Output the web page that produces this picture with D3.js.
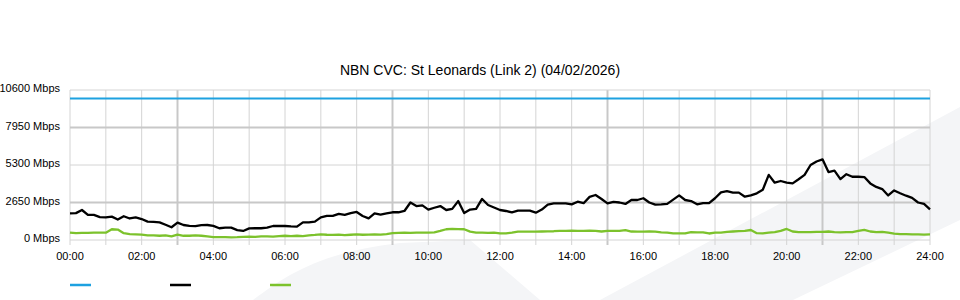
<!DOCTYPE html>
<html><head><meta charset="utf-8">
<script src="https://cdn.jsdelivr.net/npm/d3@7"></script>
<style>body{margin:0;background:#fff;}svg{display:block;font-family:"Liberation Sans",Arial,sans-serif;}</style>
</head><body><svg id="c" width="960" height="300"></svg>
<script>
const title = "NBN CVC: St Leonards (Link 2) (04/02/2026)";
const yTicks = [0, 2650, 5300, 7950, 10600];
const xTickHours = [0, 2, 4, 6, 8, 10, 12, 14, 16, 18, 20, 22, 24];
const stepMinutes = 10;
const capacity = [10000, 10000];
const download = [1885,1900,2120,1770,1770,1620,1600,1650,1450,1680,1520,1600,1480,1300,1280,1250,1080,900,1230,1060,1000,980,1050,1060,1000,830,870,870,700,640,820,830,830,870,990,990,990,960,940,1250,1250,1300,1600,1700,1700,1850,1770,1900,1980,1700,1530,1880,1800,1880,1960,1960,2050,2650,2400,2450,2150,2280,2400,2120,2200,2750,1900,2150,2200,2900,2470,2300,2120,2050,1950,2070,2070,2070,1930,2150,2500,2590,2590,2590,2520,2707,2600,3050,3180,2900,2590,2700,2650,2550,2827,2827,2950,2650,2500,2520,2550,2850,3150,2827,2750,2520,2600,2600,2950,3370,3450,3350,3350,3060,3150,3300,3550,4600,4050,4170,4050,4000,4290,4600,5300,5550,5700,4800,4900,4300,4650,4470,4470,4450,4000,3750,3600,3150,3500,3300,3130,2980,2650,2550,2170];
const upload = [520,480,500,500,520,520,520,760,740,480,420,400,380,330,330,300,330,250,380,300,300,330,300,250,200,200,210,190,200,220,230,220,250,260,240,280,300,280,300,280,330,360,400,370,360,380,340,370,400,370,380,400,380,420,480,500,520,500,520,520,520,540,640,760,780,770,760,590,520,520,500,520,470,470,520,590,590,590,590,600,610,620,640,650,657,650,650,660,650,600,650,650,650,700,600,590,590,600,590,540,520,470,470,470,560,540,540,460,520,520,580,600,620,640,707,480,470,520,560,640,780,600,560,560,560,580,580,600,560,540,560,560,640,720,600,560,580,520,450,420,420,400,400,380,400];
const seriesColors = ["#1da1e0", "#000000", "#7cc22c"];

const svg = d3.select("#c");
const W = 960, H = 300;
const m = {left: 70, right: 30, top: 90, bottom: 60};

// watermark
svg.append("path")
  .attr("d", "M253,300 C285,276 320,252 400,243 L470,240 L540,300 Z")
  .attr("fill", "#f4f5f7");
svg.append("path")
  .attr("d", "M600,300 L960,107 L960,220 L793,300 Z")
  .attr("fill", "#f4f5f7");

const x = d3.scaleLinear().domain([0, 24]).range([m.left, W - m.right]);
const y = d3.scaleLinear().domain([0, 10600]).range([H - m.bottom, m.top]);

const g = svg.append("g");
g.selectAll("line.v").data(d3.range(0, 25)).join("line")
  .attr("x1", d => x(d)).attr("x2", d => x(d))
  .attr("y1", y(10600)).attr("y2", y(0) + 5)
  .attr("stroke", d => (d % 6 === 3) ? "#c8c8c8" : "#d4d4d4")
  .attr("stroke-width", d => (d % 6 === 3) ? 2 : 1);
g.selectAll("line.h").data(yTicks).join("line")
  .attr("x1", x(0)).attr("x2", x(24))
  .attr("y1", d => y(d)).attr("y2", d => y(d))
  .attr("stroke", (d, i) => (i % 2 === 1) ? "#c8c8c8" : "#d4d4d4")
  .attr("stroke-width", (d, i) => (i % 2 === 1) ? 2 : 1);

svg.selectAll("text.y").data(yTicks).join("text")
  .attr("x", 60).attr("y", d => y(d) + 2)
  .attr("text-anchor", "end").attr("font-size", 11).attr("fill", "#000")
  .text(d => d + " Mbps");
svg.selectAll("text.x").data(xTickHours).join("text")
  .attr("x", d => x(d)).attr("y", 260)
  .attr("text-anchor", "middle").attr("font-size", 11).attr("fill", "#000")
  .text(d => String(d).padStart(2, "0") + ":00");
svg.append("text").attr("x", 480).attr("y", 75).attr("text-anchor", "middle")
  .attr("font-size", 14).attr("fill", "#000").text(title);

const line = d3.line().x((d, i) => x(i * stepMinutes / 60)).y(d => y(d));
const capLine = d3.line().x((d, i) => x(i * 24)).y(d => y(d));
svg.append("path").attr("d", capLine(capacity)).attr("fill", "none")
  .attr("stroke", seriesColors[0]).attr("stroke-width", 2);
svg.append("path").attr("d", line(download)).attr("fill", "none")
  .attr("stroke", seriesColors[1]).attr("stroke-width", 2.3).attr("stroke-linejoin", "round");
svg.append("path").attr("d", line(upload)).attr("fill", "none")
  .attr("stroke", seriesColors[2]).attr("stroke-width", 2.3).attr("stroke-linejoin", "round");

svg.selectAll("line.lg").data(seriesColors).join("line")
  .attr("x1", (d, i) => 70 + i * 100).attr("x2", (d, i) => 91 + i * 100)
  .attr("y1", 285).attr("y2", 285)
  .attr("stroke", d => d).attr("stroke-width", 2.5);
</script></body></html>
